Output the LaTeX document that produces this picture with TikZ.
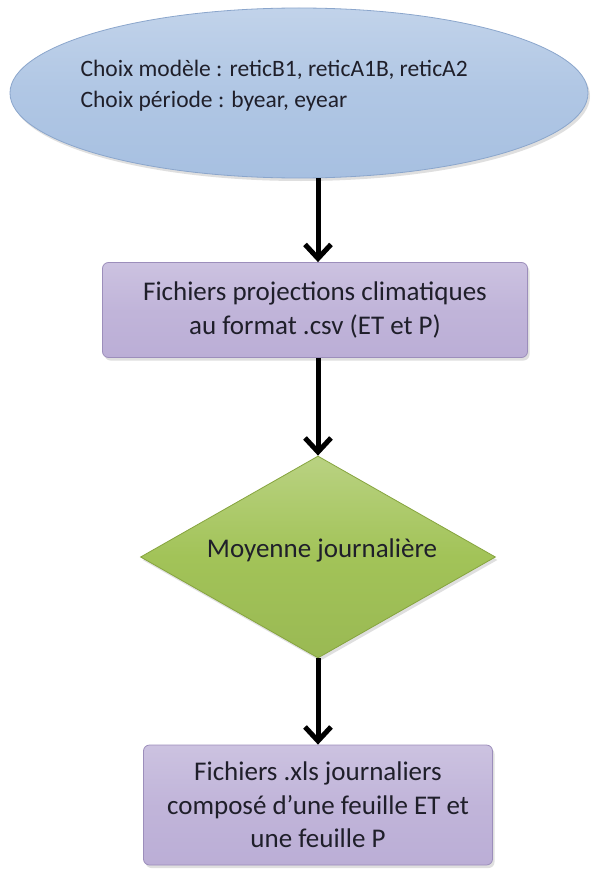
\documentclass[tikz,border=0pt]{standalone}
\usepackage{fontspec}
\setmainfont{Carlito}
\usetikzlibrary{shapes.geometric,arrows.meta,shadows}
\definecolor{ellfill}{HTML}{A7C0E1}
\definecolor{ellline}{HTML}{8BA6CC}
\definecolor{boxfill}{HTML}{BBAED6}
\definecolor{boxline}{HTML}{9C8EBB}
\definecolor{dfill}{HTML}{A2C358}
\definecolor{dline}{HTML}{86A43E}
\definecolor{txt}{HTML}{1F1F2A}
\tikzset{
  ellbox/.style={ellipse, draw=ellline, line width=0.8pt, top color=ellfill!70!white, bottom color=ellfill, middle color=ellfill!90!white, minimum width=578pt, minimum height=170pt, inner sep=0pt, drop shadow={opacity=0.25,shadow xshift=2pt,shadow yshift=-3pt}},
  procbox/.style={rectangle, rounded corners=6pt, draw=boxline, line width=0.8pt, top color=boxfill!75!white, bottom color=boxfill, middle color=boxfill!92!white, inner sep=0pt, align=center, text=txt, font=\fontsize{27}{33.5}\selectfont, drop shadow={opacity=0.25,shadow xshift=2pt,shadow yshift=-3pt}},
  decbox/.style={diamond, draw=dline, line width=0.8pt, top color=dfill!75!white, bottom color=dfill!95!black, middle color=dfill, inner sep=0pt, minimum width=355pt, minimum height=202pt, aspect=1.76, drop shadow={opacity=0.25,shadow xshift=2pt,shadow yshift=-3pt}},
  flow/.style={-{Straight Barb[length=14pt,width=26pt,line width=5pt]}, line width=5pt, black},
}
\begin{document}
\begin{tikzpicture}[x=1pt,y=-1pt]
\useasboundingbox (0,0) rectangle (600,872);
\fill[white] (0,0) rectangle (600,872);
\node[ellbox] (e) at (299,93) {};
\node[anchor=west, align=left, text=txt, font=\fontsize{23.5}{31}\selectfont] (et) at (77,86) {Choix modèle : reticB1, reticA1B, reticA2\\Choix période : byear, eyear};
\node[procbox, minimum width=425pt, minimum height=95pt] (p1) at (315,310) {Fichiers projections climatiques\\au format .csv (ET et P)};
\node[decbox] (d) at (318,557) {};
\node[text=txt, font=\fontsize{27}{33}\selectfont] (dt) at (322,550) {Moyenne journalière};
\node[procbox, minimum width=349pt, minimum height=120pt] (p2) at (318,805) {Fichiers .xls journaliers\\composé d’une feuille ET et\\une feuille P};
\draw[flow] (318,178) -- (p1.north -| 318,0);
\draw[flow] (p1.south -| 318,0) -- (d.north);
\draw[flow] (d.south) -- (p2.north -| 318,0);
\end{tikzpicture}
\end{document}
